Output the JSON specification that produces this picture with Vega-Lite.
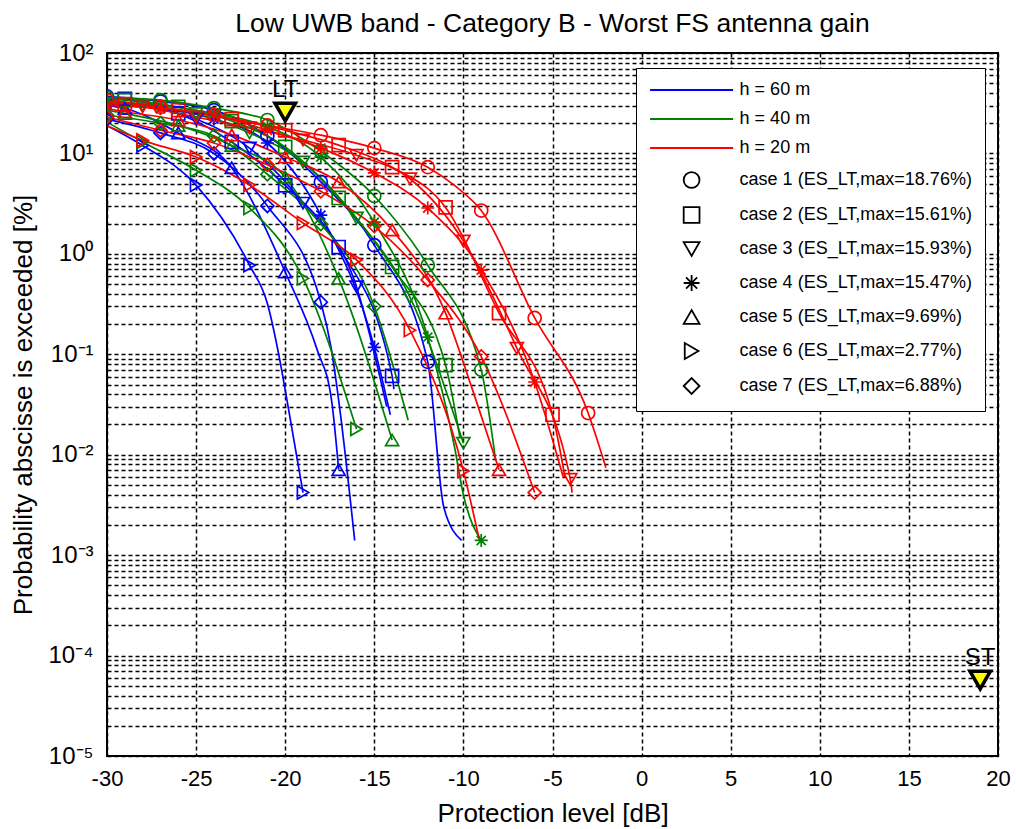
{
"$schema": "https://vega.github.io/schema/vega-lite/v6.json",
"width": 891, "height": 703,
"autosize": {"type": "none"},
"padding": {"left": 107, "top": 53, "right": 18, "bottom": 73},
"background": "white",
"title": {"text": "Low UWB band - Category B - Worst FS antenna gain", "fontSize": 26.5, "font": "Liberation Sans", "fontWeight": "normal", "color": "black", "offset": 4},
"config": {
  "font": "Liberation Sans",
  "view": {"stroke": "black", "strokeWidth": 2},
  "axis": {"grid": true, "gridColor": "black", "gridDash": [4, 3], "gridWidth": 1.5, "gridOpacity": 1, "ticks": false, "domain": false, "labelColor": "black", "titleColor": "black", "titleFontWeight": "normal", "labelFont": "Liberation Sans", "titleFont": "Liberation Sans"}
},
"datasets": {
"curves": [
{"h":"60","c":"1","x":-30,"y":37},{"h":"60","c":"1","x":-27,"y":33},{"h":"60","c":"1","x":-24,"y":27},{"h":"60","c":"1","x":-21,"y":15},{"h":"60","c":"1","x":-18,"y":5.2},{"h":"60","c":"1","x":-15,"y":1.22},{"h":"60","c":"1","x":-12,"y":0.084},{"h":"60","c":"1","x":-11.1,"y":0.003},{"h":"60","c":"1","x":-10.1,"y":0.0014},
{"h":"60","c":"2","x":-30,"y":36},{"h":"60","c":"2","x":-29,"y":35},{"h":"60","c":"2","x":-26,"y":25},{"h":"60","c":"2","x":-23,"y":13},{"h":"60","c":"2","x":-20,"y":4.8},{"h":"60","c":"2","x":-17,"y":1.17},{"h":"60","c":"2","x":-14,"y":0.061},{"h":"60","c":"2","x":-13.9,"y":0.045},
{"h":"60","c":"3","x":-30,"y":34},{"h":"60","c":"3","x":-28,"y":30},{"h":"60","c":"3","x":-25,"y":22},{"h":"60","c":"3","x":-22,"y":11.3},{"h":"60","c":"3","x":-19,"y":3.2},{"h":"60","c":"3","x":-16,"y":0.47},{"h":"60","c":"3","x":-14.3,"y":0.03},
{"h":"60","c":"4","x":-30,"y":31},{"h":"60","c":"4","x":-27,"y":28},{"h":"60","c":"4","x":-24,"y":22},{"h":"60","c":"4","x":-21,"y":12.7},{"h":"60","c":"4","x":-18,"y":2.43},{"h":"60","c":"4","x":-15,"y":0.117},{"h":"60","c":"4","x":-14.1,"y":0.025},
{"h":"60","c":"5","x":-30,"y":30},{"h":"60","c":"5","x":-29,"y":28},{"h":"60","c":"5","x":-26,"y":16},{"h":"60","c":"5","x":-23,"y":7.2},{"h":"60","c":"5","x":-20,"y":0.66},{"h":"60","c":"5","x":-18.2,"y":0.11},{"h":"60","c":"5","x":-17.4,"y":0.035},{"h":"60","c":"5","x":-17,"y":0.0071},
{"h":"60","c":"6","x":-30,"y":19},{"h":"60","c":"6","x":-28,"y":12},{"h":"60","c":"6","x":-25,"y":4.84},{"h":"60","c":"6","x":-22,"y":0.77},{"h":"60","c":"6","x":-21,"y":0.32},{"h":"60","c":"6","x":-20.3,"y":0.087},{"h":"60","c":"6","x":-19.9,"y":0.035},{"h":"60","c":"6","x":-19,"y":0.0042},
{"h":"60","c":"7","x":-30,"y":22},{"h":"60","c":"7","x":-27,"y":16},{"h":"60","c":"7","x":-24,"y":10},{"h":"60","c":"7","x":-21,"y":3.0},{"h":"60","c":"7","x":-18,"y":0.33},{"h":"60","c":"7","x":-17.4,"y":0.11},{"h":"60","c":"7","x":-17,"y":0.035},{"h":"60","c":"7","x":-16.1,"y":0.0014},
{"h":"40","c":"1","x":-30,"y":36},{"h":"40","c":"1","x":-27,"y":34},{"h":"40","c":"1","x":-24,"y":28.3},{"h":"40","c":"1","x":-21,"y":21.5},{"h":"40","c":"1","x":-18,"y":10.5},{"h":"40","c":"1","x":-15,"y":3.77},{"h":"40","c":"1","x":-12,"y":0.77},{"h":"40","c":"1","x":-9,"y":0.07},{"h":"40","c":"1","x":-8.2,"y":0.009},
{"h":"40","c":"2","x":-30,"y":35},{"h":"40","c":"2","x":-29,"y":34},{"h":"40","c":"2","x":-26,"y":29},{"h":"40","c":"2","x":-23,"y":21},{"h":"40","c":"2","x":-20,"y":11.6},{"h":"40","c":"2","x":-17,"y":3.6},{"h":"40","c":"2","x":-14,"y":0.74},{"h":"40","c":"2","x":-11,"y":0.078},{"h":"40","c":"2","x":-10.2,"y":0.015},
{"h":"40","c":"3","x":-30,"y":32},{"h":"40","c":"3","x":-28,"y":30},{"h":"40","c":"3","x":-25,"y":25},{"h":"40","c":"3","x":-22,"y":16},{"h":"40","c":"3","x":-19,"y":8.2},{"h":"40","c":"3","x":-16,"y":2.27},{"h":"40","c":"3","x":-13,"y":0.37},{"h":"40","c":"3","x":-10,"y":0.013},
{"h":"40","c":"4","x":-30,"y":33},{"h":"40","c":"4","x":-27,"y":30},{"h":"40","c":"4","x":-24,"y":25},{"h":"40","c":"4","x":-21,"y":18.5},{"h":"40","c":"4","x":-18,"y":9.2},{"h":"40","c":"4","x":-15,"y":2.07},{"h":"40","c":"4","x":-12,"y":0.148},{"h":"40","c":"4","x":-10.5,"y":0.012},{"h":"40","c":"4","x":-10,"y":0.004},{"h":"40","c":"4","x":-9,"y":0.0014},
{"h":"40","c":"5","x":-30,"y":27},{"h":"40","c":"5","x":-29,"y":25},{"h":"40","c":"5","x":-26,"y":19},{"h":"40","c":"5","x":-23,"y":12},{"h":"40","c":"5","x":-20,"y":5.8},{"h":"40","c":"5","x":-17,"y":0.57},{"h":"40","c":"5","x":-14,"y":0.014},
{"h":"40","c":"6","x":-30,"y":20.5},{"h":"40","c":"6","x":-28,"y":13},{"h":"40","c":"6","x":-25,"y":6.8},{"h":"40","c":"6","x":-22,"y":2.86},{"h":"40","c":"6","x":-19,"y":0.57},{"h":"40","c":"6","x":-16,"y":0.018},
{"h":"40","c":"7","x":-30,"y":24},{"h":"40","c":"7","x":-27,"y":20},{"h":"40","c":"7","x":-24,"y":15},{"h":"40","c":"7","x":-21,"y":6.2},{"h":"40","c":"7","x":-18,"y":1.98},{"h":"40","c":"7","x":-15,"y":0.3},{"h":"40","c":"7","x":-13.1,"y":0.022},
{"h":"20","c":"1","x":-30,"y":34},{"h":"20","c":"1","x":-27,"y":29},{"h":"20","c":"1","x":-24,"y":24},{"h":"20","c":"1","x":-21,"y":19},{"h":"20","c":"1","x":-18,"y":15.2},{"h":"20","c":"1","x":-15,"y":11.3},{"h":"20","c":"1","x":-12,"y":7.3},{"h":"20","c":"1","x":-10.5,"y":4.8},{"h":"20","c":"1","x":-9,"y":2.7},{"h":"20","c":"1","x":-6,"y":0.23},{"h":"20","c":"1","x":-3,"y":0.026},{"h":"20","c":"1","x":-2,"y":0.0074},
{"h":"20","c":"2","x":-30,"y":32},{"h":"20","c":"2","x":-29,"y":31},{"h":"20","c":"2","x":-26,"y":27},{"h":"20","c":"2","x":-23,"y":22},{"h":"20","c":"2","x":-20,"y":17},{"h":"20","c":"2","x":-17,"y":12.1},{"h":"20","c":"2","x":-14,"y":7.3},{"h":"20","c":"2","x":-11,"y":2.9},{"h":"20","c":"2","x":-8,"y":0.257},{"h":"20","c":"2","x":-5,"y":0.025},{"h":"20","c":"2","x":-4.3,"y":0.006},
{"h":"20","c":"3","x":-30,"y":31},{"h":"20","c":"3","x":-28,"y":29},{"h":"20","c":"3","x":-25,"y":23},{"h":"20","c":"3","x":-22,"y":18},{"h":"20","c":"3","x":-19,"y":13.6},{"h":"20","c":"3","x":-16,"y":9.6},{"h":"20","c":"3","x":-13,"y":5.6},{"h":"20","c":"3","x":-10,"y":1.34},{"h":"20","c":"3","x":-7,"y":0.115},{"h":"20","c":"3","x":-4,"y":0.0057},{"h":"20","c":"3","x":-3.9,"y":0.0042},
{"h":"20","c":"4","x":-30,"y":30},{"h":"20","c":"4","x":-27,"y":28},{"h":"20","c":"4","x":-24,"y":24},{"h":"20","c":"4","x":-21,"y":17},{"h":"20","c":"4","x":-18,"y":11.3},{"h":"20","c":"4","x":-15,"y":6.4},{"h":"20","c":"4","x":-12,"y":2.86},{"h":"20","c":"4","x":-9,"y":0.69},{"h":"20","c":"4","x":-6,"y":0.053},{"h":"20","c":"4","x":-4.4,"y":0.006},
{"h":"20","c":"5","x":-30,"y":28},{"h":"20","c":"5","x":-29,"y":26},{"h":"20","c":"5","x":-26,"y":21.5},{"h":"20","c":"5","x":-23,"y":15.3},{"h":"20","c":"5","x":-20,"y":9.2},{"h":"20","c":"5","x":-17,"y":5.2},{"h":"20","c":"5","x":-14,"y":1.73},{"h":"20","c":"5","x":-11,"y":0.257},{"h":"20","c":"5","x":-9.5,"y":0.045},{"h":"20","c":"5","x":-8,"y":0.0071},
{"h":"20","c":"6","x":-30,"y":18.8},{"h":"20","c":"6","x":-28,"y":13.5},{"h":"20","c":"6","x":-25,"y":9.2},{"h":"20","c":"6","x":-22,"y":4.84},{"h":"20","c":"6","x":-19,"y":2.03},{"h":"20","c":"6","x":-16,"y":0.87},{"h":"20","c":"6","x":-13,"y":0.174},{"h":"20","c":"6","x":-10,"y":0.0069},{"h":"20","c":"6","x":-9.1,"y":0.0014},
{"h":"20","c":"7","x":-30,"y":23},{"h":"20","c":"7","x":-27,"y":17},{"h":"20","c":"7","x":-24,"y":12.7},{"h":"20","c":"7","x":-21,"y":7.7},{"h":"20","c":"7","x":-18,"y":4.2},{"h":"20","c":"7","x":-15,"y":1.89},{"h":"20","c":"7","x":-12,"y":0.55},{"h":"20","c":"7","x":-9,"y":0.095},{"h":"20","c":"7","x":-6,"y":0.0042}
],
"marks": [
{"h":"60","c":"1","x":-30,"y":37},{"h":"60","c":"1","x":-27,"y":33},{"h":"60","c":"1","x":-24,"y":27},{"h":"60","c":"1","x":-21,"y":15},{"h":"60","c":"1","x":-18,"y":5.2},{"h":"60","c":"1","x":-15,"y":1.22},{"h":"60","c":"1","x":-12,"y":0.084},
{"h":"60","c":"2","x":-29,"y":35},{"h":"60","c":"2","x":-26,"y":25},{"h":"60","c":"2","x":-23,"y":13},{"h":"60","c":"2","x":-20,"y":4.8},{"h":"60","c":"2","x":-17,"y":1.17},{"h":"60","c":"2","x":-14,"y":0.061},
{"h":"60","c":"3","x":-28,"y":30},{"h":"60","c":"3","x":-25,"y":22},{"h":"60","c":"3","x":-22,"y":11.3},{"h":"60","c":"3","x":-19,"y":3.2},{"h":"60","c":"3","x":-16,"y":0.47},
{"h":"60","c":"4","x":-30,"y":31},{"h":"60","c":"4","x":-27,"y":28},{"h":"60","c":"4","x":-24,"y":22},{"h":"60","c":"4","x":-21,"y":12.7},{"h":"60","c":"4","x":-18,"y":2.43},{"h":"60","c":"4","x":-15,"y":0.117},
{"h":"60","c":"5","x":-29,"y":28},{"h":"60","c":"5","x":-26,"y":16},{"h":"60","c":"5","x":-23,"y":7.2},{"h":"60","c":"5","x":-20,"y":0.66},{"h":"60","c":"5","x":-17,"y":0.0071},
{"h":"60","c":"6","x":-28,"y":12},{"h":"60","c":"6","x":-25,"y":4.84},{"h":"60","c":"6","x":-22,"y":0.77},{"h":"60","c":"6","x":-19,"y":0.0042},
{"h":"60","c":"7","x":-30,"y":22},{"h":"60","c":"7","x":-27,"y":16},{"h":"60","c":"7","x":-24,"y":10},{"h":"60","c":"7","x":-21,"y":3.0},{"h":"60","c":"7","x":-18,"y":0.33},
{"h":"40","c":"1","x":-30,"y":36},{"h":"40","c":"1","x":-27,"y":34},{"h":"40","c":"1","x":-24,"y":28.3},{"h":"40","c":"1","x":-21,"y":21.5},{"h":"40","c":"1","x":-18,"y":10.5},{"h":"40","c":"1","x":-15,"y":3.77},{"h":"40","c":"1","x":-12,"y":0.77},{"h":"40","c":"1","x":-9,"y":0.07},
{"h":"40","c":"2","x":-29,"y":34},{"h":"40","c":"2","x":-26,"y":29},{"h":"40","c":"2","x":-23,"y":21},{"h":"40","c":"2","x":-20,"y":11.6},{"h":"40","c":"2","x":-17,"y":3.6},{"h":"40","c":"2","x":-14,"y":0.74},{"h":"40","c":"2","x":-11,"y":0.078},
{"h":"40","c":"3","x":-28,"y":30},{"h":"40","c":"3","x":-25,"y":25},{"h":"40","c":"3","x":-22,"y":16},{"h":"40","c":"3","x":-19,"y":8.2},{"h":"40","c":"3","x":-16,"y":2.27},{"h":"40","c":"3","x":-13,"y":0.37},{"h":"40","c":"3","x":-10,"y":0.013},
{"h":"40","c":"4","x":-30,"y":33},{"h":"40","c":"4","x":-27,"y":30},{"h":"40","c":"4","x":-24,"y":25},{"h":"40","c":"4","x":-21,"y":18.5},{"h":"40","c":"4","x":-18,"y":9.2},{"h":"40","c":"4","x":-15,"y":2.07},{"h":"40","c":"4","x":-12,"y":0.148},{"h":"40","c":"4","x":-9,"y":0.0014},
{"h":"40","c":"5","x":-29,"y":25},{"h":"40","c":"5","x":-26,"y":19},{"h":"40","c":"5","x":-23,"y":12},{"h":"40","c":"5","x":-20,"y":5.8},{"h":"40","c":"5","x":-17,"y":0.57},{"h":"40","c":"5","x":-14,"y":0.014},
{"h":"40","c":"6","x":-28,"y":13},{"h":"40","c":"6","x":-25,"y":6.8},{"h":"40","c":"6","x":-22,"y":2.86},{"h":"40","c":"6","x":-19,"y":0.57},{"h":"40","c":"6","x":-16,"y":0.018},
{"h":"40","c":"7","x":-30,"y":24},{"h":"40","c":"7","x":-27,"y":20},{"h":"40","c":"7","x":-24,"y":15},{"h":"40","c":"7","x":-21,"y":6.2},{"h":"40","c":"7","x":-18,"y":1.98},{"h":"40","c":"7","x":-15,"y":0.3},
{"h":"20","c":"1","x":-30,"y":34},{"h":"20","c":"1","x":-27,"y":29},{"h":"20","c":"1","x":-24,"y":24},{"h":"20","c":"1","x":-21,"y":19},{"h":"20","c":"1","x":-18,"y":15.2},{"h":"20","c":"1","x":-15,"y":11.3},{"h":"20","c":"1","x":-12,"y":7.3},{"h":"20","c":"1","x":-9,"y":2.7},{"h":"20","c":"1","x":-6,"y":0.23},{"h":"20","c":"1","x":-3,"y":0.026},
{"h":"20","c":"2","x":-29,"y":31},{"h":"20","c":"2","x":-26,"y":27},{"h":"20","c":"2","x":-23,"y":22},{"h":"20","c":"2","x":-20,"y":17},{"h":"20","c":"2","x":-17,"y":12.1},{"h":"20","c":"2","x":-14,"y":7.3},{"h":"20","c":"2","x":-11,"y":2.9},{"h":"20","c":"2","x":-8,"y":0.257},{"h":"20","c":"2","x":-5,"y":0.025},
{"h":"20","c":"3","x":-28,"y":29},{"h":"20","c":"3","x":-25,"y":23},{"h":"20","c":"3","x":-22,"y":18},{"h":"20","c":"3","x":-19,"y":13.6},{"h":"20","c":"3","x":-16,"y":9.6},{"h":"20","c":"3","x":-13,"y":5.6},{"h":"20","c":"3","x":-10,"y":1.34},{"h":"20","c":"3","x":-7,"y":0.115},{"h":"20","c":"3","x":-4,"y":0.0057},
{"h":"20","c":"4","x":-30,"y":30},{"h":"20","c":"4","x":-27,"y":28},{"h":"20","c":"4","x":-24,"y":24},{"h":"20","c":"4","x":-21,"y":17},{"h":"20","c":"4","x":-18,"y":11.3},{"h":"20","c":"4","x":-15,"y":6.4},{"h":"20","c":"4","x":-12,"y":2.86},{"h":"20","c":"4","x":-9,"y":0.69},{"h":"20","c":"4","x":-6,"y":0.053},
{"h":"20","c":"5","x":-29,"y":26},{"h":"20","c":"5","x":-26,"y":21.5},{"h":"20","c":"5","x":-23,"y":15.3},{"h":"20","c":"5","x":-20,"y":9.2},{"h":"20","c":"5","x":-17,"y":5.2},{"h":"20","c":"5","x":-14,"y":1.73},{"h":"20","c":"5","x":-11,"y":0.257},{"h":"20","c":"5","x":-8,"y":0.0071},
{"h":"20","c":"6","x":-28,"y":13.5},{"h":"20","c":"6","x":-25,"y":9.2},{"h":"20","c":"6","x":-22,"y":4.84},{"h":"20","c":"6","x":-19,"y":2.03},{"h":"20","c":"6","x":-16,"y":0.87},{"h":"20","c":"6","x":-13,"y":0.174},{"h":"20","c":"6","x":-10,"y":0.0069},
{"h":"20","c":"7","x":-30,"y":23},{"h":"20","c":"7","x":-27,"y":17},{"h":"20","c":"7","x":-24,"y":12.7},{"h":"20","c":"7","x":-21,"y":7.7},{"h":"20","c":"7","x":-18,"y":4.2},{"h":"20","c":"7","x":-15,"y":1.89},{"h":"20","c":"7","x":-12,"y":0.55},{"h":"20","c":"7","x":-9,"y":0.095},{"h":"20","c":"7","x":-6,"y":0.0042}
],
"refs": [{"x": -20, "y": 25.8, "t": "LT"}, {"x": 19, "y": 0.000057, "t": "ST"}]
},
"layer": [
{
"data": {"name": "curves"},
"mark": {"type": "line", "strokeWidth": 1.7, "interpolate": "monotone", "clip": true},
"encoding": {
  "x": {"field": "x", "type": "quantitative", "scale": {"domain": [-30, 20], "nice": false, "zero": false},
        "axis": {"values": [-30, -25, -20, -15, -10, -5, 0, 5, 10, 15, 20], "labelExpr": "replace(datum.label, '−', '-')", "labelFontSize": 22, "labelPadding": 12, "labelFlush": false, "labelBound": false, "title": "Protection level [dB]", "titleFontSize": 26, "titlePadding": 11}},
  "y": {"field": "y", "type": "quantitative", "scale": {"type": "log", "domain": [0.00001, 100], "nice": false},
        "axis": {"values": [0.00001,0.00002,0.00003,0.00004,0.00005,0.00006,0.00007,0.00008,0.00009,0.0001,0.0002,0.0003,0.0004,0.0005,0.0006,0.0007,0.0008,0.0009,0.001,0.002,0.003,0.004,0.005,0.006,0.007,0.008,0.009,0.01,0.02,0.03,0.04,0.05,0.06,0.07,0.08,0.09,0.1,0.2,0.3,0.4,0.5,0.6,0.7,0.8,0.9,1,2,3,4,5,6,7,8,9,10,20,30,40,50,60,70,80,90,100],
                 "labelExpr": "datum.value==100?'10²':datum.value==10?'10¹':datum.value==1?'10⁰':datum.value==0.1?'10⁻¹':datum.value==0.01?'10⁻²':datum.value==0.001?'10⁻³':datum.value==0.0001?'10⁻⁴':datum.value==0.00001?'10⁻⁵':''",
                 "labelFontSize": 24, "labelPadding": 14, "labelOverlap": false, "labelBound": false, "labelFlush": false,
                 "title": "Probability abscisse is exceeded [%]", "titleFontSize": 26, "titlePadding": 11}},
  "color": {"field": "h", "type": "nominal", "scale": {"domain": ["60", "40", "20"], "range": ["#0000ff", "#008000", "#ff0000"]}, "legend": null},
  "detail": {"field": "c"}
}
},
{
"data": {"name": "marks"},
"mark": {"type": "point", "filled": false, "size": 170, "strokeWidth": 1.7, "opacity": 1, "clip": true},
"encoding": {
  "x": {"field": "x", "type": "quantitative"},
  "y": {"field": "y", "type": "quantitative"},
  "color": {"field": "h", "type": "nominal", "legend": null},
  "shape": {"field": "c", "type": "nominal",
    "scale": {"domain": ["h60", "h40", "h20", "1", "2", "3", "4", "5", "6", "7"],
              "range": ["M-5.25,0L5.25,0", "M-5.25,0L5.25,0", "M-5.25,0L5.25,0", "circle", "square", "triangle-down", "M0,-1L0,1M-1,0L1,0M-0.7,-0.7L0.7,0.7M-0.7,0.7L0.7,-0.7", "triangle-up", "triangle-right", "diamond"]},
    "legend": {"title": null, "orient": "none", "legendX": 529, "legendY": 15, "fillColor": "white", "strokeColor": "black", "padding": 13,
      "symbolSize": 250, "symbolOffset": 33.6, "labelOffset": 39, "rowPadding": 11, "labelFontSize": 18, "labelColor": "black", "labelLimit": 400,
      "symbolStrokeWidth": 1.8, "symbolFillColor": "transparent",
      "symbolStrokeColor": {"expr": "datum.value=='h60'?'#0000ff':datum.value=='h40'?'#008000':datum.value=='h20'?'#ff0000':'black'"},
      "labelExpr": "datum.value=='h60'?'h = 60 m':datum.value=='h40'?'h = 40 m':datum.value=='h20'?'h = 20 m':'case '+datum.value+' (ES_LT,max='+(datum.value=='1'?'18.76':datum.value=='2'?'15.61':datum.value=='3'?'15.93':datum.value=='4'?'15.47':datum.value=='5'?'9.69':datum.value=='6'?'2.77':'6.88')+'%)'"
    }
  }
}
},
{
"data": {"name": "refs"},
"mark": {"type": "point", "shape": "triangle-down", "filled": true, "fill": "#ffff00", "stroke": "black", "strokeWidth": 3.5, "size": 420, "opacity": 1},
"encoding": {"x": {"field": "x", "type": "quantitative"}, "y": {"field": "y", "type": "quantitative"}}
},
{
"data": {"name": "refs"},
"mark": {"type": "text", "fontSize": 24, "dy": -10, "baseline": "bottom", "color": "black", "font": "Liberation Sans"},
"encoding": {"x": {"field": "x", "type": "quantitative"}, "y": {"field": "y", "type": "quantitative"}, "text": {"field": "t"}}
}
]
}
